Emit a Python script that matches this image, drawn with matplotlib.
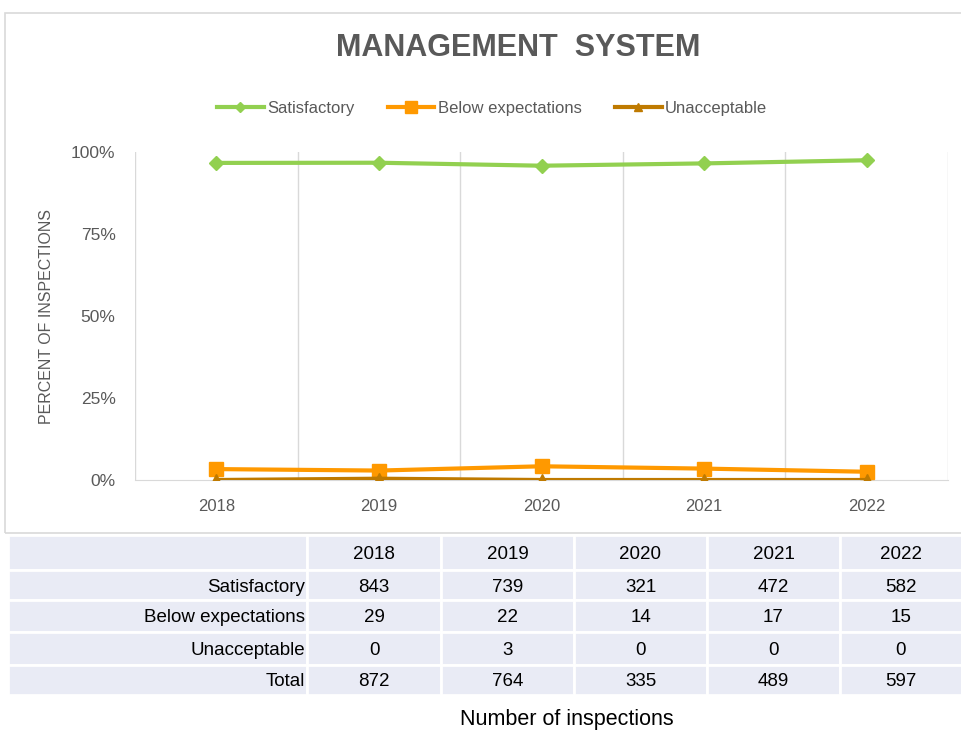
import numpy as np
import matplotlib.pyplot as plt
from matplotlib.patches import Rectangle
from matplotlib.lines import Line2D

plt.rcParams['font.family'] = ['Liberation Sans', 'DejaVu Sans']

years = ['2018', '2019', '2020', '2021', '2022']
satisfactory = [843, 739, 321, 472, 582]
below = [29, 22, 14, 17, 15]
unacceptable = [0, 3, 0, 0, 0]
total = [872, 764, 335, 489, 597]

series_names = ['Satisfactory', 'Below expectations', 'Unacceptable']
colors = ['#92D050', '#FF9900', '#BF7A00']
markers = ['D', 's', '^']
msizes = [7, 10, 8]


def pct(counts):
  return [c / t for c, t in zip(counts, total)]


def draw():
  W, H = 962, 732
  fig = plt.figure(figsize=(W / 100, H / 100), dpi=100)

  # chart frame
  frame = Rectangle((5 / W, 1 - 533 / H), 1.0, (533 - 13) / H, transform=fig.transFigure,
                    fill=False, edgecolor='#D9D9D9', linewidth=1.2)
  fig.patches.append(frame)

  ax = fig.add_axes([135 / W, 1 - 480 / H, (948 - 135) / W, (480 - 152) / H])
  x = np.arange(len(years))
  for vals, name, col, mk, ms in zip([satisfactory, below, unacceptable], series_names,
                                     colors, markers, msizes):
    ax.plot(x, pct(vals), color=col, lw=3, marker=mk, ms=ms, label=name, zorder=3,
            solid_capstyle='butt')
  ax.set_xlim(-0.5, len(years) - 0.5)
  ax.set_ylim(0, 1)
  ax.set_yticks([0, 0.25, 0.5, 0.75, 1.0])
  ax.set_yticklabels(['0%', '25%', '50%', '75%', '100%'], color='#595959', fontsize=12.5)
  ax.set_xticks(x)
  ax.set_xticklabels(years, color='#595959', fontsize=12)
  ax.tick_params(length=0, pad=14)
  ax.tick_params(axis='x', pad=14)
  for b in np.arange(-0.5, len(years), 1.0):
    ax.axvline(b, color='#D9D9D9', lw=1, zorder=1)
  for s in ['top', 'right', 'left']:
    ax.spines[s].set_visible(False)
  ax.spines['bottom'].set_color('#D9D9D9')
  ax.set_ylabel('PERCENT OF INSPECTIONS', color='#595959', fontsize=11.5)
  ax.yaxis.set_label_coords(-0.1, 0.5)

  fig.text(518 / W, 1 - 48 / H, 'MANAGEMENT  SYSTEM', ha='center', va='center',
           fontsize=22, fontweight='bold', color='#595959')

  handles = [Line2D([0], [0], color=c, lw=3, marker=m, ms=s * 0.8)
             for c, m, s in zip(colors, markers, msizes)]
  fig.legend(handles, series_names, loc='center', bbox_to_anchor=(492 / W, 1 - 108 / H),
             ncol=3, frameon=False, fontsize=12, labelcolor='#595959',
             handlelength=2.8, handletextpad=0.2, columnspacing=2.0)

  # table below the chart
  col_edges = [8, 307, 441, 574, 707, 840, 962]
  row_edges = [535, 570, 600, 632, 665, 695]
  header = [''] + years
  rows = [['Satisfactory'] + [str(v) for v in satisfactory],
          ['Below expectations'] + [str(v) for v in below],
          ['Unacceptable'] + [str(v) for v in unacceptable],
          ['Total'] + [str(v) for v in total]]
  cells = [header] + rows
  for r in range(len(cells)):
    y0, y1 = row_edges[r], row_edges[r + 1]
    for c in range(len(header)):
      x0, x1 = col_edges[c], col_edges[c + 1]
      fig.patches.append(Rectangle((x0 / W, 1 - y1 / H), (x1 - x0) / W, (y1 - y0) / H,
                                   transform=fig.transFigure, facecolor='#E9EBF5',
                                   edgecolor='white', linewidth=2))
      txt = cells[r][c]
      if not txt:
        continue
      if c == 0:
        fig.text((x1 - 2) / W, 1 - ((y0 + y1) / 2 + 2) / H, txt, ha='right', va='center',
                 fontsize=13.5, color='black')
      else:
        fig.text((x0 + x1) / 2 / W, 1 - ((y0 + y1) / 2 + 2) / H, txt, ha='center',
                 va='center', fontsize=13.5, color='black')

  fig.text(567 / W, 1 - 720 / H, 'Number of inspections', ha='center', va='center',
           fontsize=15.5, color='black')

  fig.savefig('out.png', dpi=100)


def main():
  draw()


if __name__ == '__main__':
  main()
